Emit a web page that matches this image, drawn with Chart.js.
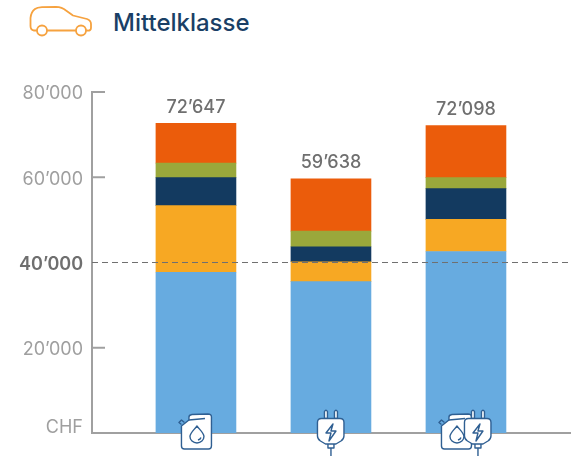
<!DOCTYPE html>
<html lang="de">
<head>
<meta charset="utf-8">
<title>Mittelklasse</title>
<script src="https://cdn.jsdelivr.net/npm/chart.js@4/dist/chart.umd.min.js"></script>
<style>
  html, body { margin: 0; padding: 0; background: #fff; }
  .wrap { position: relative; width: 571px; height: 457px; overflow: hidden; }
  canvas { position: absolute; left: 0; top: 0; }
  .car { position: absolute; left: 0; top: 0; }
  .title {
    position: absolute; left: 113px; top: 9px;
    font: 500 24px Inter, sans-serif; line-height: 28px; color: #1a3f66;
  }
</style>
</head>
<body>
<div class="wrap">
  <svg class="car" width="110" height="45" fill="none" stroke="#f6a23f" stroke-width="1.8" stroke-linejoin="round">
    <path d="M37 30.5H34Q30.5 30 30.5 26V18Q31 12 35 9Q37 7.5 42 7.2L56 6.8Q62 7 66 10.5L73 15.5L87 19Q91 20.5 91 24V28Q91 31 87 30.5H86M47 30.5H76"/>
    <circle cx="42" cy="30.5" r="5"/>
    <circle cx="81" cy="30.5" r="5"/>
  </svg>
  <div class="title">Mittelklasse</div>
  <canvas id="costChart" width="571" height="457"></canvas>
</div>
<script>
// Values (CHF)
const vehicleTypes = ['fuel', 'electric', 'hybrid'];
const totals = [72647, 59638, 72098];
const blueValues = [37720, 35530, 42590];
const yellowValues = [15620, 4640, 7530];
const navyValues = [6590, 3530, 7220];
const greenValues = [3370, 3670, 2590];
const redValues = [9347, 12268, 12168];
const tickValues = [0, 20000, 40000, 60000, 80000];
const tickLabels = ['CHF', '20’000', '40’000', '60’000', '80’000'];
const referenceValue = 40000;

const axisColor = '#a0a0a0';
const iconColor = '#2f5f92';

function toPoints(values) {
  return values.map((value, index) => ({ x: index, y: value }));
}

function formatTotal(value) {
  return String(value).replace(/\B(?=(\d{3})+$)/g, '’');
}

function isReferenceTick(ctx) {
  return ctx.tick && ctx.tick.value === referenceValue;
}

// Icon outlines, local origin is bar centre on the x axis
const canBody = new Path2D('M-14.5 -7L-7 -13V-16Q-7 -18 -4 -18.5L12 -19Q15.5 -19 15.5 -16V13Q15.5 16 12.5 16H-11.5Q-14.5 16 -14.5 13Z');
const canDetail = new Path2D('M-7 -13L9 -14.5M-14.5 -8.5L-17 -10.5L-14.5 -13L-11.5 -10.5M1 -7C4 -3 8 0 8 3.5A7 6.5 0 0 1 -6 3.5C-6 0 -2 -3 1 -7ZM5 4.5Q4.5 6.5 2 7');
const plugBody = new Path2D('M-9.5 -14.5H9Q13 -14.5 13 -10.5V3Q13 6 10 8L5 11H-5.5L-10.5 8Q-13.5 6 -13.5 3V-10.5Q-13.5 -14.5 -9.5 -14.5Z');
const plugDetail = new Path2D('M-3 11V15H3V11M0 15V23M2 -9L-5 0H0L-2 8L5 -2H0Z');
const prongs = new Path2D('M-6.5 -14.5V-21.5Q-5 -24 -3.5 -21.5V-14.5ZM3.5 -14.5V-21.5Q5 -24 6.5 -21.5V-14.5Z');

function drawCan(ctx) {
  ctx.fillStyle = '#fff';
  ctx.fill(canBody);
  ctx.stroke(canBody);
  ctx.stroke(canDetail);
}

function drawPlug(ctx) {
  ctx.fillStyle = '#fff';
  ctx.fill(prongs);
  ctx.stroke(prongs);
  ctx.fill(plugBody);
  ctx.stroke(plugBody);
  ctx.stroke(plugDetail);
}

const annotations = {
  id: 'annotations',
  afterDraw(chart) {
    const { ctx, chartArea, scales: { x, y } } = chart;

    // Short inner ticks on the y axis
    ctx.save();
    ctx.strokeStyle = axisColor;
    ctx.lineWidth = 2;
    tickValues.slice(1).forEach(value => {
      if (value === referenceValue) return;
      const py = y.getPixelForValue(value);
      ctx.beginPath();
      ctx.moveTo(chartArea.left, py);
      ctx.lineTo(chartArea.left + 13, py);
      ctx.stroke();
    });

    // Dashed reference line
    const refY = y.getPixelForValue(referenceValue);
    ctx.strokeStyle = '#707070';
    ctx.lineWidth = 1;
    ctx.setLineDash([6, 4]);
    ctx.beginPath();
    ctx.moveTo(chartArea.left, refY);
    ctx.lineTo(chartArea.right, refY);
    ctx.stroke();
    ctx.setLineDash([]);

    // Totals above the bars
    ctx.fillStyle = '#6f6f6f';
    ctx.font = '500 18px Inter, sans-serif';
    ctx.textAlign = 'center';
    ctx.textBaseline = 'middle';
    totals.forEach((total, index) => {
      ctx.fillText(formatTotal(total), x.getPixelForValue(index), y.getPixelForValue(total) - 16);
    });

    // Vehicle type icons on the x axis
    ctx.strokeStyle = iconColor;
    ctx.lineWidth = 1.4;
    ctx.lineJoin = 'round';
    vehicleTypes.forEach((type, index) => {
      ctx.save();
      ctx.translate(x.getPixelForValue(index), y.getPixelForValue(0));
      if (type === 'fuel') {
        drawCan(ctx);
      } else if (type === 'electric') {
        drawPlug(ctx);
      } else {
        ctx.save();
        ctx.translate(-10, 0);
        drawCan(ctx);
        ctx.restore();
        ctx.translate(12, 0);
        drawPlug(ctx);
      }
      ctx.restore();
    });
    ctx.restore();
  }
};

new Chart(document.getElementById('costChart'), {
  type: 'bar',
  data: {
    datasets: [
      { data: toPoints(blueValues), backgroundColor: '#67abe0' },
      { data: toPoints(yellowValues), backgroundColor: '#f7a823' },
      { data: toPoints(navyValues), backgroundColor: '#133a60' },
      { data: toPoints(greenValues), backgroundColor: '#9aa83b' },
      { data: toPoints(redValues), backgroundColor: '#eb5c0b' }
    ]
  },
  options: {
    responsive: false,
    animation: false,
    barThickness: 80,
    layout: { padding: { top: 92, bottom: 24, left: 0, right: 0 } },
    plugins: {
      legend: { display: false },
      tooltip: { enabled: false }
    },
    scales: {
      x: {
        type: 'linear',
        stacked: true,
        offset: false,
        min: -0.77,
        max: 2.778,
        afterFit: scale => { scale.height = 0; },
        grid: { display: false },
        ticks: { display: false },
        border: { color: axisColor, width: 2 }
      },
      y: {
        stacked: true,
        min: 0,
        max: 80000,
        afterFit: scale => { scale.width = 92; },
        afterBuildTicks: scale => { scale.ticks = tickValues.map(value => ({ value })); },
        grid: { display: false, drawTicks: false },
        border: { color: axisColor, width: 2 },
        ticks: {
          padding: 9,
          labelOffset: 2,
          color: ctx => isReferenceTick(ctx) ? '#6f6f6f' : '#9f9f9f',
          font: ctx => ({
            family: 'Inter, sans-serif',
            size: 18,
            weight: isReferenceTick(ctx) ? '600' : '400',
            lineHeight: 0.8
          }),
          // CHF sits a little above the zero line
          callback: value => {
            const label = tickLabels[tickValues.indexOf(value)];
            return value === 0 ? [label, ''] : label;
          }
        }
      }
    }
  },
  plugins: [annotations]
});
</script>
</body>
</html>
